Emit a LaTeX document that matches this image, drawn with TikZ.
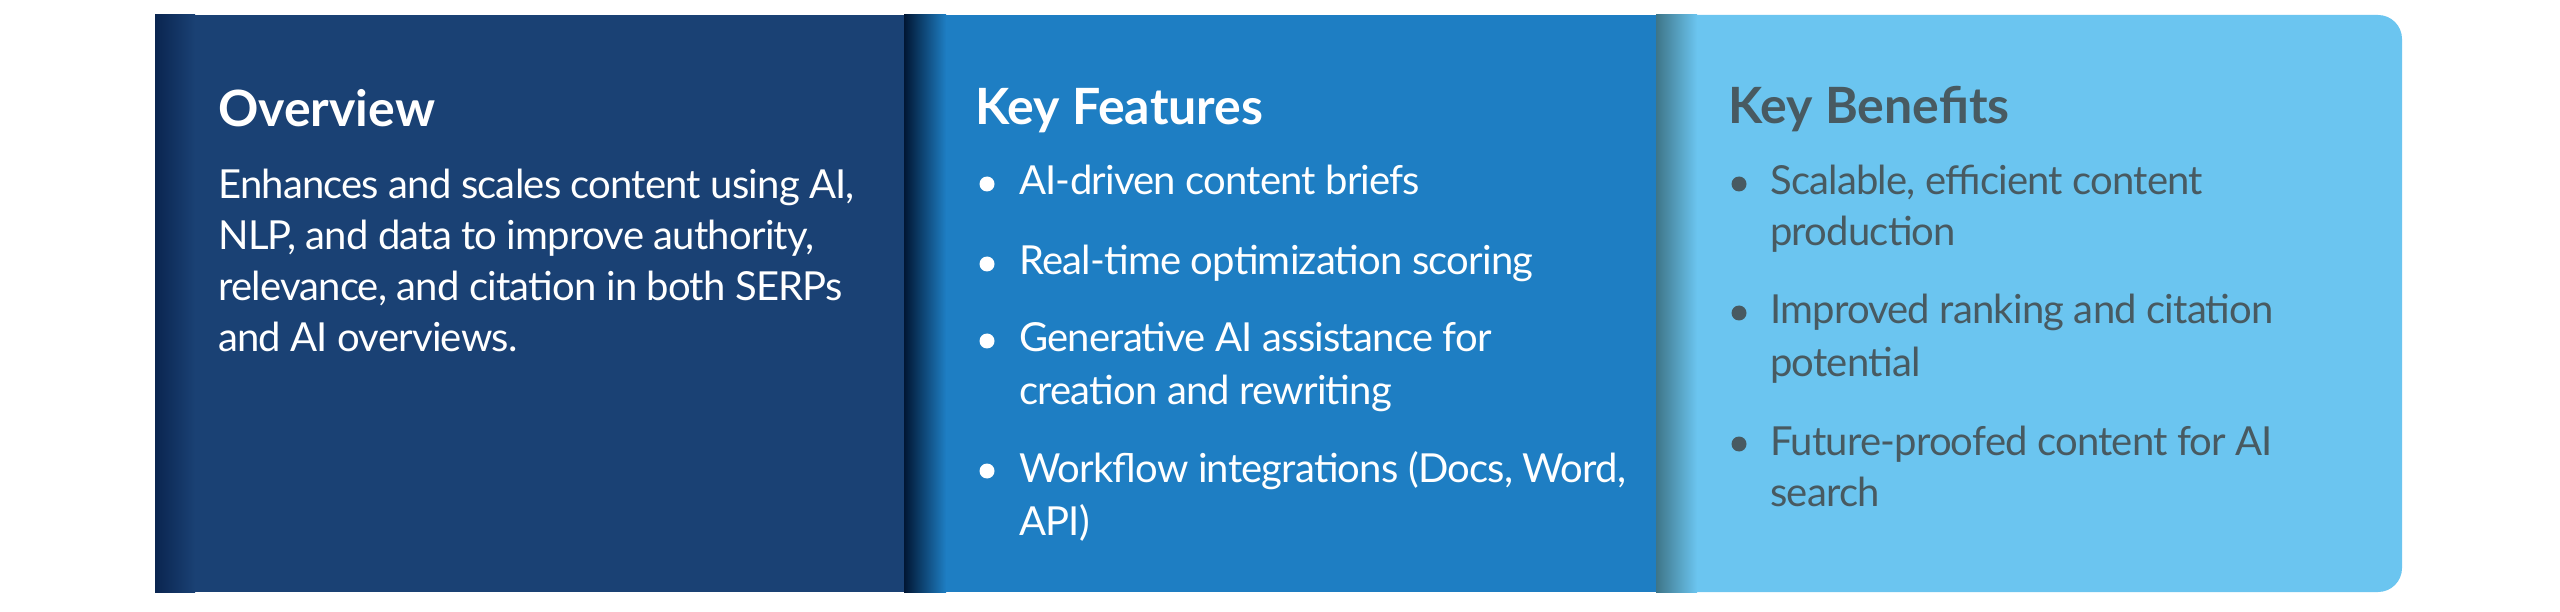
\documentclass[tikz,border=0pt]{standalone}
\usepackage{fontspec}
\setmainfont{Lato}
\newfontfamily\bodyfont[LetterSpace=-2]{Lato}
\definecolor{navy}{HTML}{1A4174}
\definecolor{navyedge}{HTML}{0A2550}
\definecolor{midblue}{HTML}{1E7EC3}
\definecolor{midedge}{HTML}{011633}
\definecolor{lightblue}{HTML}{6BC5F0}
\definecolor{lightedge}{HTML}{3E7588}
\definecolor{graytext}{HTML}{485A61}
\begin{document}
\begin{tikzpicture}[x=1pt,y=-1pt,
  title/.style={anchor=base west,inner sep=0pt,font=\fontsize{50}{60}\selectfont\bfseries},
  body/.style={anchor=base west,inner sep=0pt,font=\bodyfont\fontsize{40}{48}\selectfont},
  dot/.style={circle,inner sep=0pt,minimum size=15pt}]
\useasboundingbox (0,0) rectangle (2560,612);
\fill[white] (0,0) rectangle (2560,612);
% panels
\fill[navy] (155,15) rectangle (904,592);
\shade[left color=navyedge,right color=navy] (155,15) rectangle (195,592);
\fill[midblue] (904,15) rectangle (1656,592);
\shade[left color=midedge,right color=midblue] (904,15) rectangle (946,592);
\fill[lightblue] (1656,15) {[rounded corners=24pt] -- (2402,15) -- (2402,592)} -- (1656,592) -- cycle;
\shade[left color=lightedge,right color=lightblue] (1656,15) rectangle (1697,592);
% Panel 1
\node[title,text=white] (t1) at (218,127) {Overview};
\node[body,text=white] (o1) at (218,199) {Enhances and scales content using AI,};
\node[body,text=white] (o2) at (218,250) {NLP, and data to improve authority,};
\node[body,text=white] (o3) at (218,301) {relevance, and citation in both SERPs};
\node[body,text=white] (o4) at (218,352) {and AI overviews.};
% Panel 2
\node[title,text=white] (t2) at (975,125) {Key Features};
\node[dot,fill=white] (b21) at (987,184) {};
\node[body,text=white] (f1) at (1019,195) {AI-driven content briefs};
\node[dot,fill=white] (b22) at (987,264) {};
\node[body,text=white] (f2) at (1019,275) {Real-time optimization scoring};
\node[dot,fill=white] (b23) at (987,341) {};
\node[body,text=white] (f3a) at (1019,352) {Generative AI assistance for};
\node[body,text=white] (f3b) at (1019,404) {creation and rewriting};
\node[dot,fill=white] (b24) at (987,471) {};
\node[body,text=white] (f4a) at (1019,482) {Workflow integrations (Docs, Word,};
\node[body,text=white] (f4b) at (1019,535) {API)};
% Panel 3
\node[title,text=graytext] (t3) at (1728,124) {Key Benefits};
\node[dot,fill=graytext] (b31) at (1739,184) {};
\node[body,text=graytext] (k1a) at (1770,195) {Scalable, efficient content};
\node[body,text=graytext] (k1b) at (1770,246) {production};
\node[dot,fill=graytext] (b32) at (1739,313) {};
\node[body,text=graytext] (k2a) at (1770,324) {Improved ranking and citation};
\node[body,text=graytext] (k2b) at (1770,376) {potential};
\node[dot,fill=graytext] (b33) at (1739,444) {};
\node[body,text=graytext] (k3a) at (1770,455) {Future-proofed content for AI};
\node[body,text=graytext] (k3b) at (1770,506) {search};
\end{tikzpicture}
\end{document}
